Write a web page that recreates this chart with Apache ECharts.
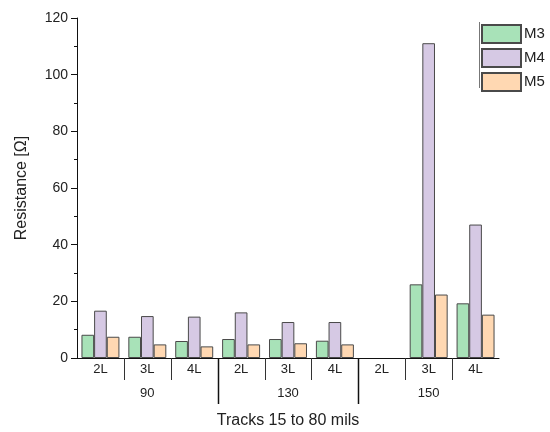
<!DOCTYPE html>
<html>
<head>
<meta charset="utf-8">
<script src="https://cdn.jsdelivr.net/npm/echarts@6/dist/echarts.min.js"></script>
<style>html,body{margin:0;padding:0;background:#fff;}#c{width:550px;height:432px;}</style>
</head>
<body>
<div id="c"></div>
<script>
const layers = ['2L','3L','4L','2L','3L','4L','2L','3L','4L'];
const groups = ['90','130','150'];
const seriesNames = ['M3','M4','M5'];
const m3 = [8.2, 7.5, 6.0, 6.7, 6.7, 6.1, null, 26.0, 19.3];
const m4 = [16.7, 14.8, 14.6, 16.1, 12.7, 12.7, null, 111.1, 47.1];
const m5 = [7.5, 4.8, 4.1, 4.8, 5.2, 4.8, null, 22.4, 15.3];
const yTicks = [0, 20, 40, 60, 80, 100, 120];
const shortSeps = [1, 2, 4, 5, 7, 8];
const longSeps = [3, 6];

const colors = ['#a8e2b8', '#d6c9e4', '#ffd8b2'];
const font = 'Liberation Sans, Arial, sans-serif';

const sepData = shortSeps.map(i => [i, 0, 0]).concat(longSeps.map(i => [i, 0, 1]));

const chart = echarts.init(document.getElementById('c'), null, {renderer: 'canvas'});
const barStyle = (c) => ({color: c, borderColor: '#4a4a4a', borderWidth: 1});
chart.setOption({
  animation: false,
  textStyle: {fontFamily: font},
  grid: {left: 77, right: 51, top: 18, bottom: 74, containLabel: false, outerBoundsMode: 'none'},
  legend: {
    orient: 'vertical', left: 481, top: 24, padding: 0, itemWidth: 39, itemHeight: 18, itemGap: 4,
    icon: 'rect',
    textStyle: {fontSize: 15, color: '#222', fontFamily: font, padding: [0, 0, 0, -2]},
    data: seriesNames
  },
  graphic: [{type: 'line', shape: {x1: 479.5, y1: 22, x2: 479.5, y2: 88}, style: {stroke: '#777', lineWidth: 1}}],
  xAxis: [{
    type: 'category', data: layers, position: 'bottom', boundaryGap: true,
    axisLine: {lineStyle: {color: '#111', width: 1}},
    axisTick: {show: false},
    axisLabel: {interval: 0, margin: 5, fontSize: 13, color: '#222', fontFamily: font}
  }, {
    type: 'category', data: groups, position: 'bottom', boundaryGap: true,
    axisLine: {show: false}, axisTick: {show: false},
    axisLabel: {interval: 0, margin: 29, fontSize: 13, color: '#222', fontFamily: font},
    name: 'Tracks 15 to 80 mils', nameLocation: 'middle', nameGap: 55,
    nameTextStyle: {fontSize: 16, color: '#222', fontFamily: font}
  }],
  yAxis: {
    type: 'value', min: yTicks[0], max: yTicks[yTicks.length - 1], interval: 20,
    name: 'Resistance [Ω]', nameLocation: 'middle', nameGap: 47,
    nameTextStyle: {fontSize: 16, color: '#222', fontFamily: font},
    axisLine: {show: true, lineStyle: {color: '#111', width: 1}},
    axisTick: {show: true, length: 6, lineStyle: {color: '#111'}},
    minorTick: {show: true, splitNumber: 2, length: 3, lineStyle: {color: '#111'}},
    splitLine: {show: false},
    axisLabel: {fontSize: 14, color: '#222', margin: 9, fontFamily: font}
  },
  series: [
    {name: seriesNames[0], type: 'bar', data: m3, itemStyle: barStyle(colors[0]), barGap: '0%', barCategoryGap: '19%'},
    {name: seriesNames[1], type: 'bar', data: m4, itemStyle: barStyle(colors[1]), barGap: '0%', barCategoryGap: '19%'},
    {name: seriesNames[2], type: 'bar', data: m5, itemStyle: barStyle(colors[2]), barGap: '0%', barCategoryGap: '19%'},
    {
      type: 'custom', xAxisIndex: 0, yAxisIndex: 0, clip: false, silent: true,
      data: sepData,
      renderItem: function (params, api) {
        const p = api.coord([api.value(0), api.value(1)]);
        const bw = api.size([1, 0])[0];
        const x = Math.round(p[0] - bw / 2) + 0.5;
        const len = api.value(2) ? 46 : 22;
        return {type: 'line', shape: {x1: x, y1: p[1], x2: x, y2: p[1] + len},
          style: {stroke: api.value(2) ? '#111' : '#333', lineWidth: api.value(2) ? 1.5 : 1}};
      }
    }
  ]
});
</script>
</body>
</html>
